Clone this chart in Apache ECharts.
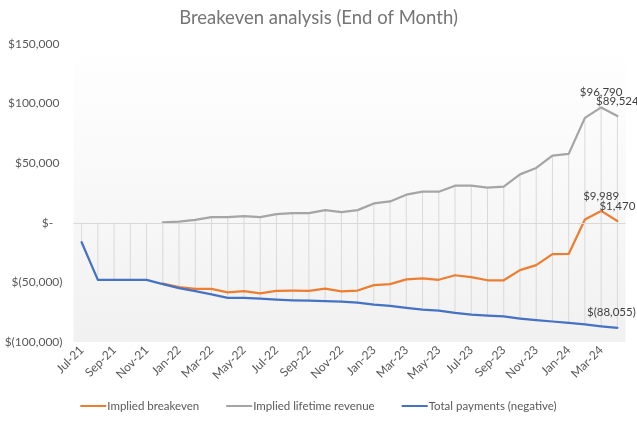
<!DOCTYPE html>
<html>
<head>
<meta charset="utf-8">
<script src="https://cdn.jsdelivr.net/npm/echarts@6/dist/echarts.min.js"></script>
<style>html,body{margin:0;padding:0;background:#fff}#c{width:637px;height:422px}</style>
</head>
<body>
<div id="c"></div>
<script>
var months = ['Jul-21','Aug-21','Sep-21','Oct-21','Nov-21','Dec-21','Jan-22','Feb-22','Mar-22','Apr-22','May-22','Jun-22',
  'Jul-22','Aug-22','Sep-22','Oct-22','Nov-22','Dec-22','Jan-23','Feb-23','Mar-23','Apr-23','May-23','Jun-23',
  'Jul-23','Aug-23','Sep-23','Oct-23','Nov-23','Dec-23','Jan-24','Feb-24','Mar-24','Apr-24'];
var impliedBreakeven = [null,null,null,null,null,-51000,-54000,-55500,-55500,-58300,-57300,-59200,
  -57200,-57000,-57100,-55300,-57500,-56800,-52300,-51500,-47400,-46600,-47800,-44000,
  -45500,-48200,-48200,-39700,-35500,-26300,-26100,2800,9989,1470];
var impliedLifetimeRevenue = [null,null,null,null,null,400,1000,2500,4700,4700,5700,4700,
  7200,8100,8100,10600,8900,10600,16200,17900,23600,26100,26100,31100,
  31100,29500,30300,40600,46000,56300,57800,88000,96790,89524];
var totalPayments = [-16300,-47900,-47900,-47900,-47900,-51400,-54800,-57300,-60000,-62900,-63000,-63700,
  -64400,-65000,-65300,-65800,-66200,-67000,-68700,-69700,-71400,-72800,-73600,-75600,
  -77000,-77800,-78600,-80300,-81700,-82800,-83900,-85300,-86801,-88055];
var yTickValues = [-100000,-50000,0,50000,100000,150000];
var yTickLabels = ['$(100,000)','$(50,000)','$-   ','$50,000 ','$100,000 ','$150,000 '];
var seriesNames = ['Implied breakeven','Implied lifetime revenue','Total payments (negative)'];
var labeledBreakeven = [32, 33];
var labeledRevenue = [32, 33];
var labeledPayments = [33];

function money(v){
  var s = Math.abs(Math.round(v)).toString().replace(/\B(?=(\d{3})+(?!\d))/g, ',');
  return v < 0 ? '$(' + s + ')' : '$' + s;
}
var dropData = months.map(function(m, i){
  var top = Math.max(impliedLifetimeRevenue[i] == null ? 0 : impliedLifetimeRevenue[i], 0);
  var bot = Math.min(totalPayments[i], 0);
  return [i, top, bot];
});
var FONT = 'Lato';
function lineSeries(name, data, color, z, labeled, dx){
  return {
    name: name, type: 'line', data: data, z: z,
    showSymbol: true, symbol: 'circle', symbolSize: 0, connectNulls: false,
    lineStyle: {color: color, width: 2.25, cap: 'round', join: 'round'},
    itemStyle: {color: color},
    label: {
      show: true, position: 'top', distance: 9,
      color: '#404040', fontSize: 11.5, fontFamily: FONT,
      formatter: function(p){ return labeled.indexOf(p.dataIndex) >= 0 ? money(p.value) : ''; }
    },
    labelLayout: function(){ return {hideOverlap: false, dx: dx}; },
    emphasis: {disabled: true}
  };
}
var chart = echarts.init(document.getElementById('c'), null, {renderer: 'canvas'});
chart.setOption({
  animation: false,
  backgroundColor: '#ffffff',
  textStyle: {fontFamily: FONT},
  title: {
    text: 'Breakeven analysis (End of Month)', left: 'center', top: 4,
    textStyle: {fontFamily: FONT, fontSize: 18.5, fontWeight: 'normal', color: '#757575'}
  },
  legend: {
    bottom: 5, left: 'center', itemGap: 27, itemWidth: 26, itemHeight: 2, icon: 'rect',
    data: seriesNames,
    textStyle: {fontFamily: FONT, fontSize: 11.5, color: '#595959', padding: [0,0,0,-4]}
  },
  grid: {
    left: 73.5, right: 11.5, top: 44, bottom: 80, outerBoundsMode: 'none', containLabel: false,
    show: true, borderWidth: 0,
    backgroundColor: new echarts.graphic.LinearGradient(0, 0, 0, 1, [
      {offset: 0, color: '#ffffff'}, {offset: 1, color: '#f1f1f1'}
    ])
  },
  xAxis: {
    type: 'category', data: months, boundaryGap: true,
    axisLine: {show: false, onZero: false},
    axisTick: {show: false},
    axisLabel: {interval: 1, rotate: 45, fontSize: 12, color: '#595959', fontFamily: FONT, margin: 6},
    splitLine: {show: false}
  },
  yAxis: {
    type: 'value', min: -100000, max: 150000, interval: 50000,
    axisLine: {show: false}, axisTick: {show: false}, splitLine: {show: false},
    axisLabel: {
      fontSize: 12, color: '#595959', fontFamily: FONT, margin: 11,
      formatter: function(v){ var k = yTickValues.indexOf(v); return k >= 0 ? yTickLabels[k] : ''; }
    }
  },
  series: [
    {
      type: 'custom', data: dropData, z: 1, silent: true,
      encode: {x: 0, y: [1, 2]},
      renderItem: function(params, api){
        var a = api.coord([api.value(0), api.value(1)]);
        var b = api.coord([api.value(0), api.value(2)]);
        return {type: 'line', shape: {x1: a[0], y1: a[1], x2: b[0], y2: b[1]},
          style: {stroke: '#d9d9d9', lineWidth: 1}};
      },
      markLine: {
        silent: true, symbol: 'none', label: {show: false},
        lineStyle: {color: '#d9d9d9', width: 1, type: 'solid'},
        data: [{yAxis: 0}]
      }
    },
    lineSeries(seriesNames[0], impliedBreakeven, '#ED7D31', 3, labeledBreakeven, 0),
    lineSeries(seriesNames[1], impliedLifetimeRevenue, '#A5A5A5', 4, labeledRevenue, 0),
    lineSeries(seriesNames[2], totalPayments, '#4472C4', 5, labeledPayments, -6)
  ]
});
</script>
</body>
</html>
